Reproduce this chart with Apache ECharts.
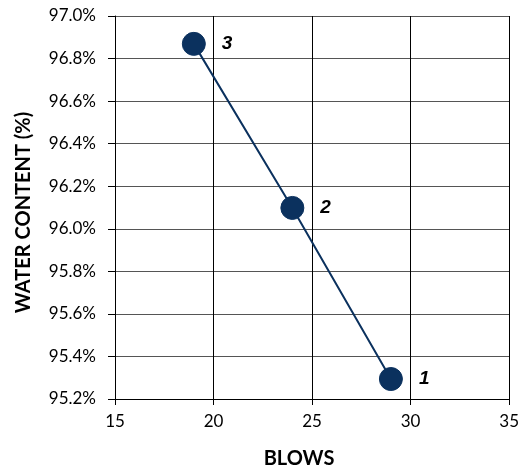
<!DOCTYPE html>
<html>
<head>
<meta charset="utf-8">
<script src="https://cdn.jsdelivr.net/npm/echarts@6/dist/echarts.min.js"></script>
<style>
  html, body { margin: 0; padding: 0; background: #fff; }
  #chart { width: 522px; height: 474px; }
</style>
</head>
<body>
<div id="chart"></div>
<script>
// data
const blows = [29, 24, 19];
const waterContent = [95.294, 96.098, 96.869];
const pointLabels = ['1', '2', '3'];

const chart = echarts.init(document.getElementById('chart'));

const seriesData = blows.map((b, i) => ({
  value: [b, waterContent[i]],
  label: { formatter: pointLabels[i] }
}));

const axisFont = { fontFamily: 'Lato', fontSize: 17, color: '#000' };
const titleFont = { fontFamily: 'Lato', fontSize: 20, fontWeight: 'bold', color: '#000' };

chart.setOption({
  animation: false,
  grid: { left: 115, top: 16, right: 11, bottom: 73 },
  xAxis: {
    type: 'value',
    min: 15, max: 35, interval: 5,
    name: 'BLOWS',
    nameLocation: 'middle',
    nameGap: 50,
    nameTextStyle: Object.assign({ padding: [0, 26, 0, 0] }, titleFont),
    axisLine: { show: true, lineStyle: { color: '#000', width: 1 } },
    axisTick: { show: true, length: 6, lineStyle: { color: '#000' } },
    axisLabel: Object.assign({ margin: 14 }, axisFont),
    splitLine: { show: true, lineStyle: { color: '#000', width: 1 } }
  },
  yAxis: {
    type: 'value',
    min: 95.2, max: 97.0, interval: 0.2,
    name: 'WATER CONTENT (%)',
    nameLocation: 'middle',
    nameGap: 81,
    nameTextStyle: Object.assign({ padding: [0, 10, 0, 0] }, titleFont),
    axisLine: { show: true, lineStyle: { color: '#000', width: 1 } },
    axisTick: { show: true, length: 7, lineStyle: { color: '#000' } },
    axisLabel: Object.assign({
      margin: 19,
      formatter: (v) => v.toFixed(1) + '%'
    }, axisFont),
    splitLine: { show: true, lineStyle: { color: '#555', width: 1 } }
  },
  series: [{
    type: 'line',
    data: seriesData,
    symbol: 'circle',
    symbolSize: 23,
    itemStyle: { color: '#0b315e', borderColor: '#0b315e' },
    lineStyle: { color: '#0b315e', width: 2 },
    label: {
      show: true,
      position: 'right',
      distance: 16,
      fontFamily: 'Liberation Sans',
      fontSize: 19,
      fontWeight: 'bold',
      fontStyle: 'italic',
      color: '#000'
    }
  }]
});
</script>
</body>
</html>
